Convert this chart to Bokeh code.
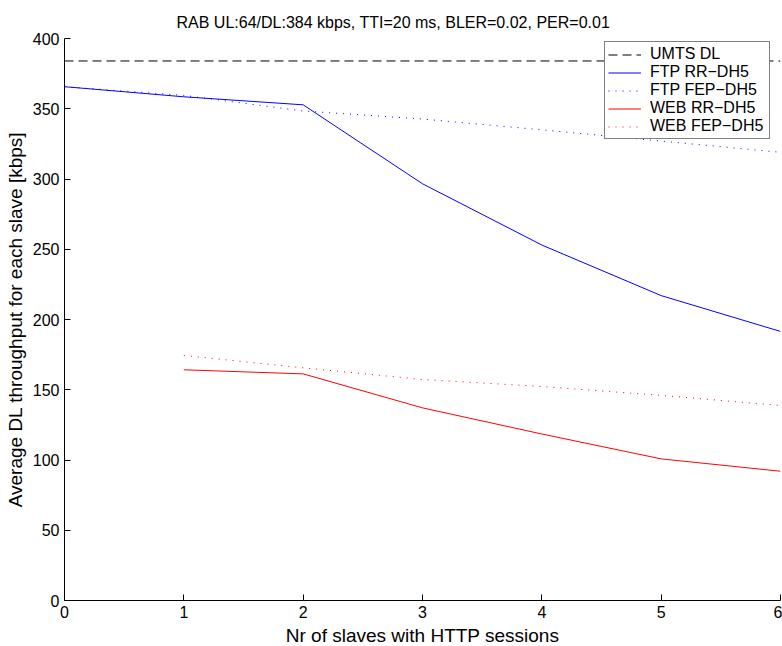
from bokeh.plotting import figure
from bokeh.models import FixedTicker, Range1d, Legend, LegendItem, Title
from bokeh.embed import file_html
from bokeh.resources import INLINE

# ---- data ----
x_ftp = [0, 1, 2, 3, 4, 5, 6]
ftp_rr = [365.7, 358.5, 352.8, 296.6, 253.0, 217.0, 191.5]
ftp_fep = [365.7, 359.5, 348.4, 342.7, 335.0, 327.0, 319.0]
x_web = [1, 2, 3, 4, 5, 6]
web_rr = [164.2, 161.3, 137.1, 118.5, 100.8, 92.0]
web_fep = [174.4, 165.6, 157.3, 152.3, 146.0, 138.8]
umts_dl = 384
x_ticks = [0, 1, 2, 3, 4, 5, 6]
y_ticks = [0, 50, 100, 150, 200, 250, 300, 350, 400]
title_text = "RAB UL:64/DL:384 kbps, TTI=20 ms, BLER=0.02, PER=0.01"
x_label = "Nr of slaves with HTTP sessions"
y_label = "Average DL throughput for each slave [kbps]"
labels = ["UMTS DL", "FTP RR\u2212DH5", "FTP FEP\u2212DH5", "WEB RR\u2212DH5", "WEB FEP\u2212DH5"]

FONT = "Liberation Sans"

p = figure(width=782, height=646, frame_width=716, frame_height=562,
           output_backend="svg", toolbar_location=None, title_location=None,
           x_range=Range1d(0, 6), y_range=Range1d(0, 400),
           min_border_left=64, min_border_right=2, min_border_top=38, min_border_bottom=46)
p.outline_line_color = None
p.xgrid.visible = False
p.ygrid.visible = False
p.background_fill_color = "white"
p.border_fill_color = "white"

spacer = Title(text=" ", text_font_size="6px", standoff=0)
p.add_layout(spacer, "above")
main_title = Title(text=title_text, align="left", offset=112, standoff=0,
                   text_font=FONT, text_font_size="16px", text_font_style="normal",
                   text_color="black")
p.add_layout(main_title, "above")

for ax, ticks, lab in [(p.xaxis[0], x_ticks, x_label), (p.yaxis[0], y_ticks, y_label)]:
    ax.ticker = FixedTicker(ticks=ticks)
    ax.axis_label = lab
    ax.axis_label_text_font = FONT
    ax.axis_label_text_font_size = "19px"
    ax.axis_label_text_font_style = "normal"
    ax.axis_label_text_color = "black"
    ax.major_label_text_font = FONT
    ax.major_label_text_font_size = "16px"
    ax.major_label_text_color = "black"
    ax.axis_line_color = "black"
    ax.major_tick_line_color = "black"
    ax.major_tick_in = 6
    ax.major_tick_out = 0
    ax.minor_tick_line_color = None
    ax.major_label_standoff = 5
    ax.axis_label_standoff = 4

xs_line = [0, 6]
r0 = p.line(xs_line, [umts_dl, umts_dl], line_color="black", line_width=1, line_dash="9 5")
r1 = p.line(x_ftp, ftp_rr, line_color="#0000ff", line_width=1)
r2 = p.line(x_ftp, ftp_fep, line_color="#0000ff", line_width=1, line_dash="1 6")
r3 = p.line(x_web, web_rr, line_color="#ff0000", line_width=1)
r4 = p.line(x_web, web_fep, line_color="#ff0000", line_width=1, line_dash="1 6")

legend = Legend(items=[LegendItem(label=l, renderers=[r]) for l, r in zip(labels, [r0, r1, r2, r3, r4])],
                location=(540, 461))
legend.label_text_font = FONT
legend.label_text_font_size = "16px"
legend.label_text_color = "black"
legend.border_line_color = "black"
legend.border_line_width = 1
legend.background_fill_color = "white"
legend.background_fill_alpha = 1
legend.padding = 3
legend.spacing = 0
legend.margin = 0
legend.glyph_width = 33
legend.glyph_height = 17
legend.label_height = 17
legend.label_standoff = 9
legend.label_width = 116
p.add_layout(legend, "center")

open("out.html", "w").write(file_html(p, INLINE))
